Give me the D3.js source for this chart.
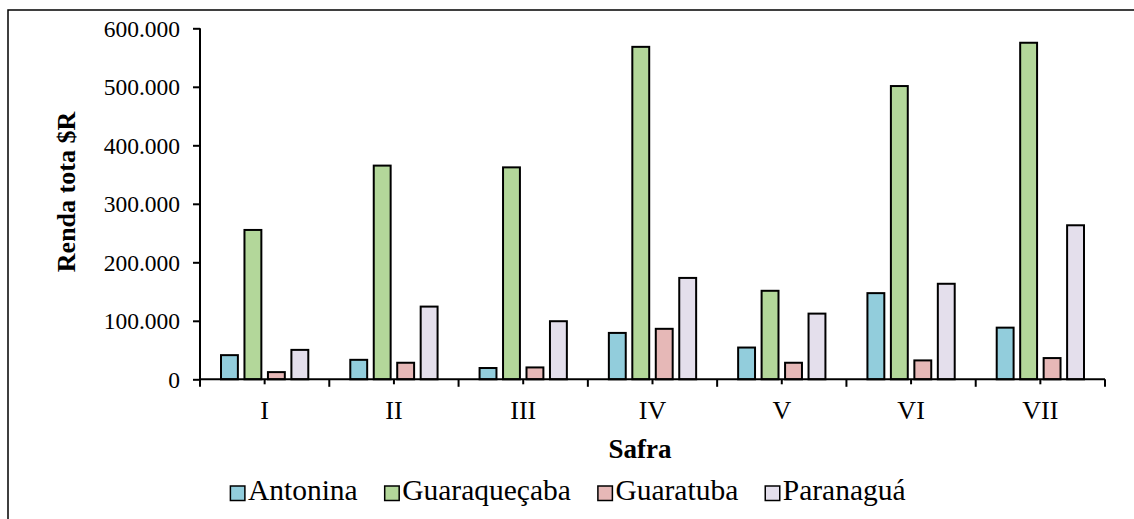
<!DOCTYPE html>
<html>
<head>
<meta charset="utf-8">
<script src="https://cdn.jsdelivr.net/npm/d3@7"></script>
<style>
  html, body { margin: 0; padding: 0; background: #fff; }
  svg { display: block; }
</style>
</head>
<body>
<svg id="chart" width="1134" height="519"></svg>
<script>
// Harvest periods (safras)
const safras = ["I", "II", "III", "IV", "V", "VI", "VII"];
// Municipalities
const municipios = ["Antonina", "Guaraqueçaba", "Guaratuba", "Paranaguá"];
// Total income (R$) per harvest for each municipality
const antonina     = [43000, 35000, 21000, 81000, 56000, 149000, 90000];
const guaraquecaba = [257000, 367000, 364000, 570000, 153000, 503000, 577000];
const guaratuba    = [14000, 30000, 22000, 88000, 30000, 34000, 38000];
const paranagua    = [52000, 126000, 101000, 175000, 114000, 165000, 265000];
// Y axis ticks
const yTicks = [0, 100000, 200000, 300000, 400000, 500000, 600000];
const cores = ["#92CDDC", "#B3D79A", "#E6B8B7", "#E4DFEC"];

const FONT = '"Liberation Serif", "Times New Roman", "DejaVu Serif", serif';

const seriesValues = [antonina, guaraquecaba, guaratuba, paranagua];
const rows = safras.map((s, i) => ({
  safra: s,
  values: municipios.map((m, k) => ({ municipio: m, value: seriesValues[k][i] }))
}));

const svg = d3.select("#chart").style("font-family", FONT);

// Outer chart frame
svg.append("rect")
  .attr("x", 8).attr("y", 10)
  .attr("width", 1140).attr("height", 520)
  .attr("fill", "none").attr("stroke", "#000").attr("stroke-width", 1.5);

const plot = { left: 200, right: 1105, top: 28.3, bottom: 379.3 };

const x0 = d3.scaleBand().domain(safras).range([plot.left, plot.right]).padding(0);
const groupPad = 20;
const x1 = d3.scaleBand().domain(municipios)
  .range([groupPad, x0.bandwidth() - groupPad])
  .paddingInner(0.195).paddingOuter(0);
const y = d3.scaleLinear().domain([0, 600000]).range([plot.bottom, plot.top]);
const color = d3.scaleOrdinal().domain(municipios).range(cores);

// Bars
const sw = 2;
svg.append("g")
  .selectAll("g")
  .data(rows)
  .join("g")
  .attr("transform", d => `translate(${x0(d.safra)},0)`)
  .selectAll("rect")
  .data(d => d.values)
  .join("rect")
  .attr("x", d => x1(d.municipio) + sw / 2)
  .attr("width", x1.bandwidth() - sw)
  .attr("y", d => y(d.value) + sw / 2)
  .attr("height", d => y(0) - y(d.value) - sw / 2)
  .attr("fill", d => color(d.municipio))
  .attr("stroke", "#000")
  .attr("stroke-width", sw);

// Y axis
const fmt = v => v === 0 ? "0" : d3.format(",")(v).replace(/,/g, ".");
const yAxis = svg.append("g")
  .attr("transform", `translate(${plot.left},0)`)
  .call(d3.axisLeft(y).tickValues(yTicks).tickFormat(fmt).tickSize(7).tickPadding(13));
yAxis.attr("font-family", null);
yAxis.select(".domain").attr("d", `M0,${plot.top}V${plot.bottom}`).attr("stroke", "#000").attr("stroke-width", 2);
yAxis.selectAll(".tick line").attr("stroke", "#000").attr("stroke-width", 2);
yAxis.selectAll(".tick text")
  .attr("dy", "0.33em")
  .style("font-family", FONT).style("font-size", "23.5px").attr("fill", "#000");

// X axis: category labels with ticks at category boundaries
const xAxis = svg.append("g")
  .attr("transform", `translate(0,${plot.bottom})`)
  .call(d3.axisBottom(x0).tickSize(5).tickPadding(16));
xAxis.attr("font-family", null);
xAxis.select(".domain").attr("d", `M${plot.left},0H${plot.right}`).attr("stroke", "#000").attr("stroke-width", 2);
xAxis.selectAll(".tick line").attr("stroke", "#000").attr("stroke-width", 2);
xAxis.selectAll(".tick text")
  .attr("dy", "0.71em")
  .style("font-family", FONT).style("font-size", "26px").attr("fill", "#000");
const boundaries = safras.map(s => x0(s)).concat([plot.right]);
xAxis.append("g").selectAll("line")
  .data(boundaries)
  .join("line")
  .attr("x1", d => d).attr("x2", d => d)
  .attr("y1", 0).attr("y2", 7.5)
  .attr("stroke", "#000").attr("stroke-width", 2);

// Axis titles
svg.append("text")
  .attr("transform", "translate(75,192) rotate(-90)")
  .attr("text-anchor", "middle")
  .style("font-family", FONT).style("font-size", "26px").style("font-weight", "bold")
  .text("Renda tota $R");

svg.append("text")
  .attr("x", 640).attr("y", 458)
  .attr("text-anchor", "middle")
  .style("font-family", FONT).style("font-size", "27px").style("font-weight", "bold")
  .text("Safra");

// Legend
const legend = svg.append("g");
const box = 14.5, boxGap = 3, itemGap = 27;
let cx = 0;
municipios.forEach((m, i) => {
  const g = legend.append("g").attr("transform", `translate(${cx},0)`);
  g.append("rect")
    .attr("x", 0).attr("y", -box + 0.5)
    .attr("width", box).attr("height", box)
    .attr("fill", color(m)).attr("stroke", "#000").attr("stroke-width", 1.5);
  const t = g.append("text")
    .attr("x", box + boxGap).attr("y", 0)
    .style("font-family", FONT).style("font-size", "29.5px")
    .text(m);
  cx += box + boxGap + t.node().getComputedTextLength() + itemGap;
});
const legendWidth = cx - itemGap;
legend.attr("transform", `translate(${568 - legendWidth / 2},500)`);
</script>
</body>
</html>
